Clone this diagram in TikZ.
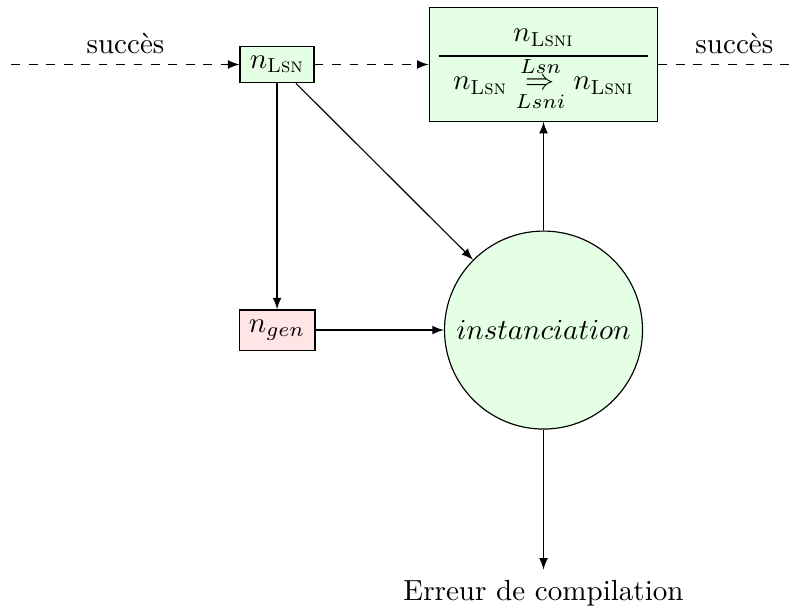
\documentclass[tikz,border=0pt]{standalone}
\usepackage{amsmath}
\usepackage{xcolor}
\usetikzlibrary{positioning}
\usetikzlibrary{arrows,calc}

\begin{document}
\begin{tikzpicture}[
    >=latex,
    basic/.style={draw,rectangle},
    valide/.style={basic,fill=green!10},
    genere/.style={basic,fill=red!10},
    etape/.style={draw,circle,fill=green!10,minimum size=2.394cm,inner sep=0pt},
    flux/.style={draw,dashed},
]
    \useasboundingbox (0,0) rectangle (9.625,-7.352);
        \node[valide] (lsn) at (3.35,-0.78) {$n_{\textsc{Lsn}}$};
        \coordinate[left=2.757cm of lsn] (entree);
            \path[flux,->] (entree) -- node[above,midway]{succès} (lsn);
        \node[valide,right=1.379cm of lsn] (regle) {\setlength{\tabcolsep}{4.85pt}\begin{tabular}{c}
            $n_{\textsc{Lsni}}$ \\[1pt] \hline
            $n_{\textsc{Lsn}} \underset{Lsni}{\overset{Lsn}{\Rightarrow}} n_{\textsc{Lsni}}$
        \end{tabular}};
            \path[flux,->] (lsn) -- (regle);
        \coordinate[right=1.838cm of regle] (sortie);
            \path[flux] (regle) -- node[above,midway]{succès} (sortie);
        \node[genere,below=2.733cm of lsn] (gen) {$n_{gen}$};
            \path[draw,->] (lsn) -- (gen);
        \node[etape] (inst) at (regle |- gen) {$instanciation$};
            \path[draw,->] (gen) -- (inst);
            \path[draw,->] (lsn) -- (inst);
            \path[draw,->] (inst) -- (regle);
        \node[below=1.693cm of inst] (erreur) {Erreur de compilation};
            \path[draw,->] (inst) -- (erreur);
\end{tikzpicture}
\end{document}
